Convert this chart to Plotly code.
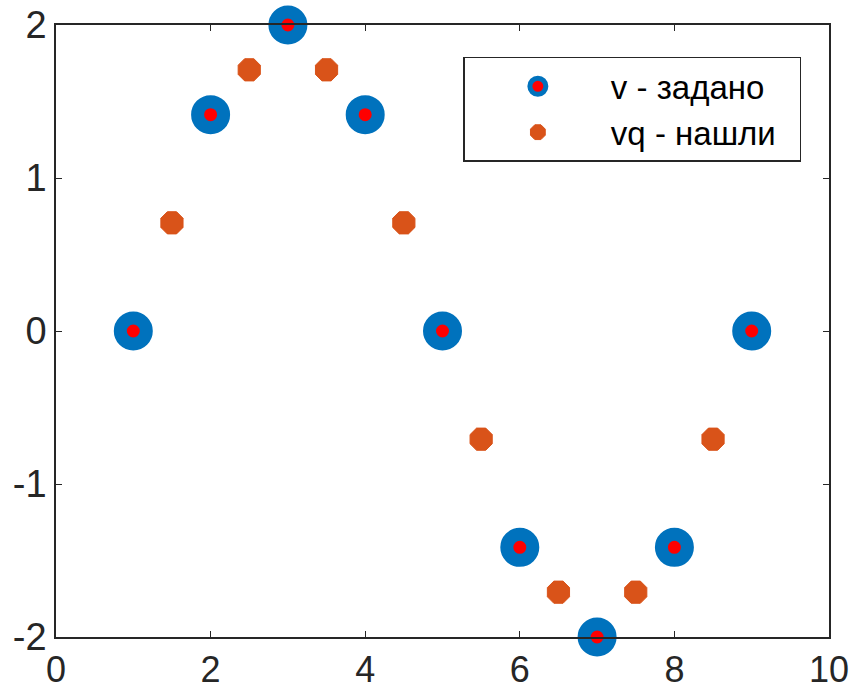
import plotly.graph_objects as go

x_given = [1, 2, 3, 4, 5, 6, 7, 8, 9]
v_given = [0, 1.4142, 2, 1.4142, 0, -1.4142, -2, -1.4142, 0]
x_query = [1.5, 2.5, 3.5, 4.5, 5.5, 6.5, 7.5, 8.5]
v_query = [0.7071, 1.7071, 1.7071, 0.7071, -0.7071, -1.7071, -1.7071, -0.7071]

x_ticks = [0, 2, 4, 6, 8, 10]
y_ticks = [-2, -1, 0, 1, 2]
y_tick_text = ["-2", "-1", "0", "1", "2"]

BLUE = "#0072BD"
ORANGE = "#D95319"
AX = "#262626"
FONT = "Liberation Sans, Arial, sans-serif"

fig = go.Figure()
fig.add_trace(go.Scatter(
    x=x_given, y=v_given, mode="markers", name="v - задано\u00a0\u00a0",
    cliponaxis=False,
    marker=dict(symbol="circle", size=26, color="#FF0000",
                line=dict(color=BLUE, width=13)),
))
fig.add_trace(go.Scatter(
    x=x_query, y=v_query, mode="markers", name="vq - нашли\u00a0\u00a0",
    cliponaxis=False,
    marker=dict(symbol="octagon", size=24, color=ORANGE,
                line=dict(color=ORANGE, width=1)),
))

axis_common = dict(
    showline=True, linecolor=AX, linewidth=1.5, mirror="ticks",
    ticks="inside", ticklen=6, tickwidth=1, tickcolor=AX,
    showgrid=False, zeroline=False, automargin=False,
)
fig.update_xaxes(range=[0, 10], tickvals=x_ticks, ticklabelstandoff=0,
                 tickfont=dict(family=FONT, size=36, color=AX), **axis_common)
fig.update_yaxes(range=[-2, 2], tickvals=y_ticks, ticktext=y_tick_text,
                 ticklabelstandoff=0,
                 tickfont=dict(family=FONT, size=38, color=AX), **axis_common)

fig.update_layout(
    width=854, height=690,
    margin=dict(l=56, r=25, t=25, b=53),
    plot_bgcolor="white", paper_bgcolor="white",
    font=dict(family=FONT, color="black"),
    legend=dict(
        x=0.527, y=0.948, xanchor="left", yanchor="top",
        bgcolor="white", bordercolor=AX, borderwidth=1.5,
        font=dict(family=FONT, size=33, color="black"),
        itemsizing="trace", itemwidth=136, tracegroupgap=0,
    ),
)

fig.write_html("out.html")
